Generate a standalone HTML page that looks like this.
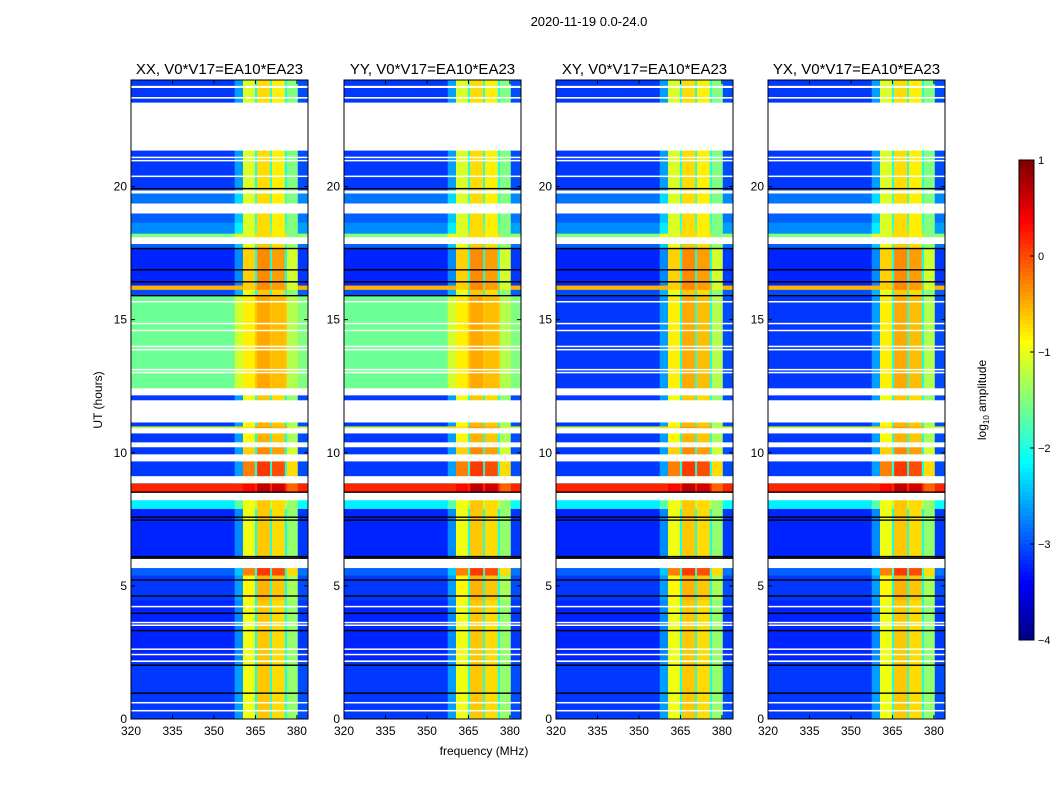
<!DOCTYPE html>
<html><head><meta charset="utf-8"><style>
body{margin:0;background:#fff;font-family:"Liberation Sans",sans-serif}
svg{display:block}
</style></head><body>
<svg id="fig" width="1050" height="800" xmlns="http://www.w3.org/2000/svg">
<text x="589" y="26" font-size="13" text-anchor="middle">2020-11-19 0.0-24.0</text>
<text x="484" y="755" font-size="12" text-anchor="middle">frequency (MHz)</text>
<text transform="translate(102,400) rotate(-90)" font-size="12" text-anchor="middle">UT (hours)</text>
<text transform="translate(986,400) rotate(-90)" font-size="12" text-anchor="middle">log<tspan font-size="8" dy="3">10</tspan><tspan dy="-3"> amplitude</tspan></text>
</svg>
<script>
const panelTitles=["XX, V0*V17=EA10*EA23","YY, V0*V17=EA10*EA23","XY, V0*V17=EA10*EA23","YX, V0*V17=EA10*EA23"];
const greenBg=[-1.6,-1.6,-3.1,-3.1];
const blockStart=[0,2.14,4.47,5.40,6.04,7.9,8.52,8.86,9.12,9.94,10.39,10.92,11.0,11.97,12.42,15.91,16.13,16.29,17.7,18.09,18.24,18.65,19.36,19.85,23.15];
const blockEnd=[2.14,4.47,5.40,5.67,7.9,8.22,8.86,9.12,9.68,10.21,10.73,11.0,11.14,12.16,15.91,16.13,16.29,17.67,17.84,18.24,18.65,18.99,19.74,21.35,24];
const bgLevel=[-3.1,-3.2,-3.1,-2.9,-3.2,-2.2,0.2,-2.2,-3.1,-3.1,-3.1,-1.2,-3.1,-3.1,null,-3.0,-0.5,-3.2,-2.9,-1.5,-2.7,-2.9,-2.8,-3.1,-3.1];
const bandLevel=[-0.6,-0.6,-0.5,0.1,-0.6,-0.6,0.7,-0.6,0.1,-0.3,-0.5,-0.4,-0.5,-0.6,-0.45,-0.6,-0.3,-0.3,-0.6,-0.7,-0.7,-0.7,-0.7,-0.7,-0.7];
const whiteStart=[23.7,23.3,21.35,21.07,20.95,20.36,19.74,18.99,18.24,17.84,15.66,14.84,14.58,13.98,13.86,13.11,13.0,12.16,11.14,10.73,10.21,9.68,8.86,8.22,5.67,4.2,3.6,3.5,2.6,2.4,2.14,0.6,0.3];
const whiteEnd=[23.78,23.36,23.15,21.12,21.0,20.41,19.85,19.36,18.09,18.09,15.7,14.88,14.62,14.02,13.9,13.15,13.04,12.42,11.97,10.92,10.39,9.94,9.12,8.52,5.89,4.25,3.65,3.55,2.65,2.45,2.2,0.64,0.34];
const blackLines=[19.92,17.67,16.87,16.42,15.9,8.52,7.58,7.47,6.1,6.04,5.22,4.62,3.97,3.32,2.02,0.97];
const colStart=[320,357.5,360.5,364.8,365.6,370.3,371,375.6,376.4,380.3];
const colEnd=[357.5,360.5,364.8,365.6,370.3,371,375.6,376.4,380.3,384];
const colKind=["bg","edge","band","line","band","line","band","line","band","bg"];
const colOffset=[0,0.5,-0.35,1.0,0.0,1.0,-0.1,1.0,-0.8,0.1];
const xTicks=[320,335,350,365,380];
const yTicks=[0,5,10,15,20];
const cbTicks=[1,0,-1,-2,-3,-4];
const NS="http://www.w3.org/2000/svg";
const svg=document.getElementById('fig');
const lefts=[131,344,556,768],W=177,T=80,B=719;
function jet(v){let t=(v+4)/5;t=Math.max(0,Math.min(1,t));
 const f=x=>Math.round(255*Math.max(0,Math.min(1,x)));
 return `rgb(${f(1.5-Math.abs(4*t-3))},${f(1.5-Math.abs(4*t-2))},${f(1.5-Math.abs(4*t-1))})`;}
function mk(tag,attrs,parent){const e=document.createElementNS(NS,tag);for(const k in attrs)e.setAttribute(k,attrs[k]);(parent||svg).appendChild(e);return e;}
function yS(h){return B-(h/24)*(B-T);}
panelTitles.forEach((title,p)=>{
 const L=lefts[p];const xS=f=>L+(f-320)*(W/64);
 const g=mk('g',{});
 
 
 mk('rect',{x:L,y:T,width:W,height:B-T,fill:'#fff'},g);
 blockStart.forEach((t0,i)=>{
  const bg=bgLevel[i]===null?greenBg[p]:bgLevel[i];
  colStart.forEach((f0,j)=>{
   let v;
   if(colKind[j]==='bg')v=bg+colOffset[j];
   else if(colKind[j]==='edge')v=Math.max(bg,bg+colOffset[j]);
   else if(colKind[j]==='line')v=Math.min(bandLevel[i],Math.max(bg,-3.0)+colOffset[j]);
   else v=bandLevel[i]+colOffset[j];
   if(bg>-0.6&&colKind[j]!=='band')v=bg;
   const r=mk('rect',{x:xS(f0),y:yS(blockEnd[i]),width:xS(colEnd[j])-xS(f0)+0.3,height:yS(t0)-yS(blockEnd[i])+0.3,fill:jet(v)},g);
   
   
  });
 });
 whiteStart.forEach((t0,i)=>{mk('rect',{x:L,y:yS(whiteEnd[i]),width:W,height:Math.max(1.5,yS(t0)-yS(whiteEnd[i])),fill:'#fff'},g);});
 blackLines.forEach(t=>{mk('rect',{x:L,y:yS(t)-0.7,width:W,height:1.4,fill:'#000'},g);});
 mk('rect',{x:L,y:T,width:W,height:B-T,fill:'none',stroke:'#000','stroke-width':1},g);
 const tt=mk('text',{x:L+W/2,y:74,'font-size':15,'text-anchor':'middle'},g);tt.textContent=title;
 
 
 xTicks.forEach(f=>{const x=xS(f);mk('line',{x1:x,x2:x,y1:B,y2:B-4,stroke:'#000'},g);mk('line',{x1:x,x2:x,y1:T,y2:T+4,stroke:'#000'},g);
  const t=mk('text',{x:x,y:B+16,'font-size':12,'text-anchor':'middle'},g);t.textContent=f;
  
  });
 yTicks.forEach(h=>{const y=yS(h);mk('line',{x1:L,x2:L+4,y1:y,y2:y,stroke:'#000'},g);mk('line',{x1:L+W,x2:L+W-4,y1:y,y2:y,stroke:'#000'},g);
  const t=mk('text',{x:L-4,y:y+4,'font-size':12,'text-anchor':'end'},g);t.textContent=h;
  
  });
});
const cb=mk('g',{});


const CT=160,CB=640;
for(let i=0;i<120;i++){const v=1-5*i/120;mk('rect',{x:1019,y:CT+i*(CB-CT)/120,width:15,height:(CB-CT)/120+0.5,fill:jet(v)},cb);}
mk('rect',{x:1019,y:CT,width:15,height:CB-CT,fill:'none',stroke:'#000'},cb);
cbTicks.forEach(v=>{const y=CT+(1-v)/5*(CB-CT);mk('line',{x1:1030,x2:1034,y1:y,y2:y,stroke:'#000'},cb);
 const t=mk('text',{x:1038,y:y+4,'font-size':11},cb);t.textContent=v<0?'\u2212'+(-v):v;
 
 });
</script>
</body></html>
